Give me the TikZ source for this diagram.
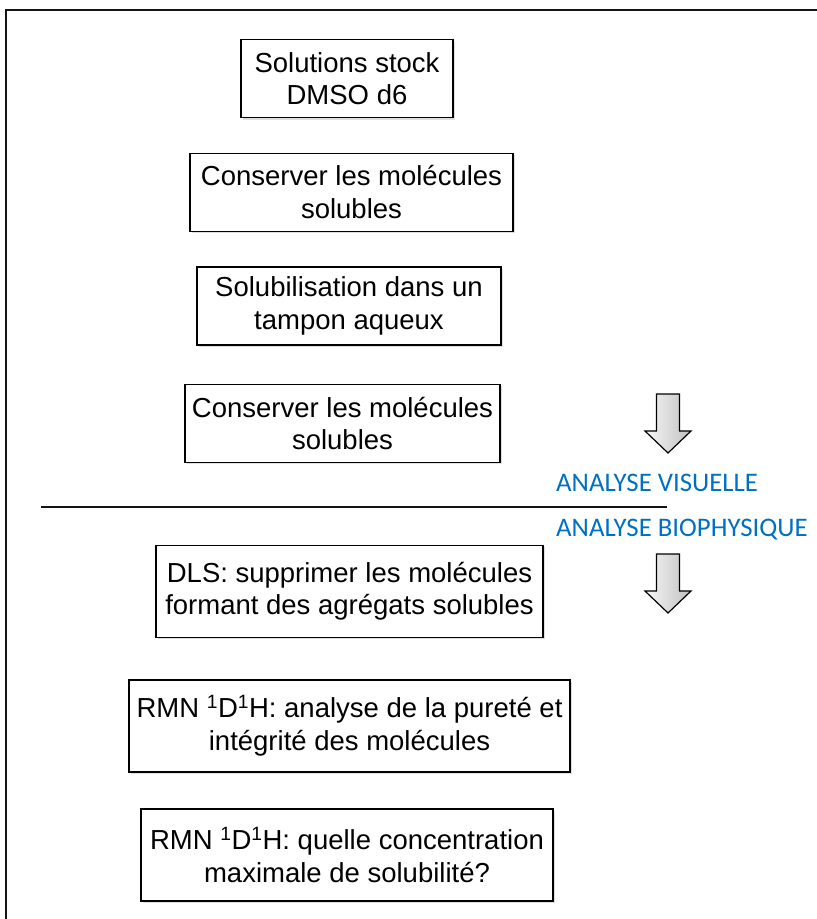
\documentclass[tikz,border=0pt]{standalone}
\usepackage{fontspec}
\setmainfont{Liberation Sans}
\newfontfamily\labelfont{Carlito}
\usepackage{tikz}
\usetikzlibrary{positioning,shadows}
\definecolor{analyseblue}{RGB}{0,112,192}
\definecolor{framegray}{RGB}{20,20,20}

\begin{document}
\begin{tikzpicture}[
    x=1pt, y=-1pt,
    node distance=34.5pt,
    box/.style={rectangle, draw=black, fill=white, line width=1.2pt, align=center, inner xsep=7pt,
        font=\fontsize{27.5}{32.5}\selectfont, minimum height=78pt,
        drop shadow={shadow xshift=2pt, shadow yshift=-2pt, opacity=0.25}},
    tallbox/.style={box, minimum height=92pt},
    phase/.style={font=\labelfont\fontsize{26.8}{30}\selectfont, text=analyseblue, anchor=west, inner sep=0pt},
    blockarrow/.style={draw=black, line width=1.2pt, line join=miter, left color=gray!6, right color=gray!50},
    rule/.style={line width=1.4pt, framegray},
]
\useasboundingbox (0,0) rectangle (817,919);
% frame
\draw[rule] (6,919) -- (6,10) -- (817,10);

% Visual screening
\node[box, minimum width=212pt] (stock) at (347,78.5) {Solutions stock\\DMSO d6};
\node[box, minimum width=323pt, below=of stock, xshift=4.5pt] (keep1) {Conserver les molécules\\solubles};
\node[box, minimum width=304pt, below=of keep1, xshift=-2.5pt] (buffer) {Solubilisation dans un\\tampon aqueux};
\node[box, minimum width=315pt, below=38.3pt of buffer, xshift=-6.5pt] (keep2) {Conserver les molécules\\solubles};

% Biophysical analysis
\node[tallbox, minimum width=387pt, below=81.8pt of keep2, xshift=7pt] (dls) {DLS: supprimer les molécules\\formant des agrégats solubles};
\node[tallbox, minimum width=441pt, below=41.3pt of dls] (purity) {RMN \textsuperscript{1}D\textsuperscript{1}H: analyse de la pureté et\\intégrité des molécules};
\node[tallbox, minimum width=412pt, below=35.8pt of purity, xshift=-2.5pt] (solub) {RMN \textsuperscript{1}D\textsuperscript{1}H: quelle concentration\\maximale de solubilité?};

% separator
\coordinate (sepL) at (41,507);
\coordinate (sepR) at (667,507);
\draw[rule] (sepL) -- (sepR);
\node[phase] (visuel) at (556,483) {ANALYSE VISUELLE};
\node[phase] (biophys) at (556,530) {ANALYSE BIOPHYSIQUE};

% block arrows
\coordinate (arrowA) at (668,394);
\coordinate (arrowB) at (668,554);
\draw[blockarrow] (arrowA) ++(-11.5,0) -- ++(23,0) -- ++(0,37) -- ++(11.5,0) -- ++(-23,22) -- ++(-23,-22) -- ++(11.5,0) -- cycle;
\draw[blockarrow] (arrowB) ++(-11.5,0) -- ++(23,0) -- ++(0,37) -- ++(11.5,0) -- ++(-23,22) -- ++(-23,-22) -- ++(11.5,0) -- cycle;
\end{tikzpicture}
\end{document}
